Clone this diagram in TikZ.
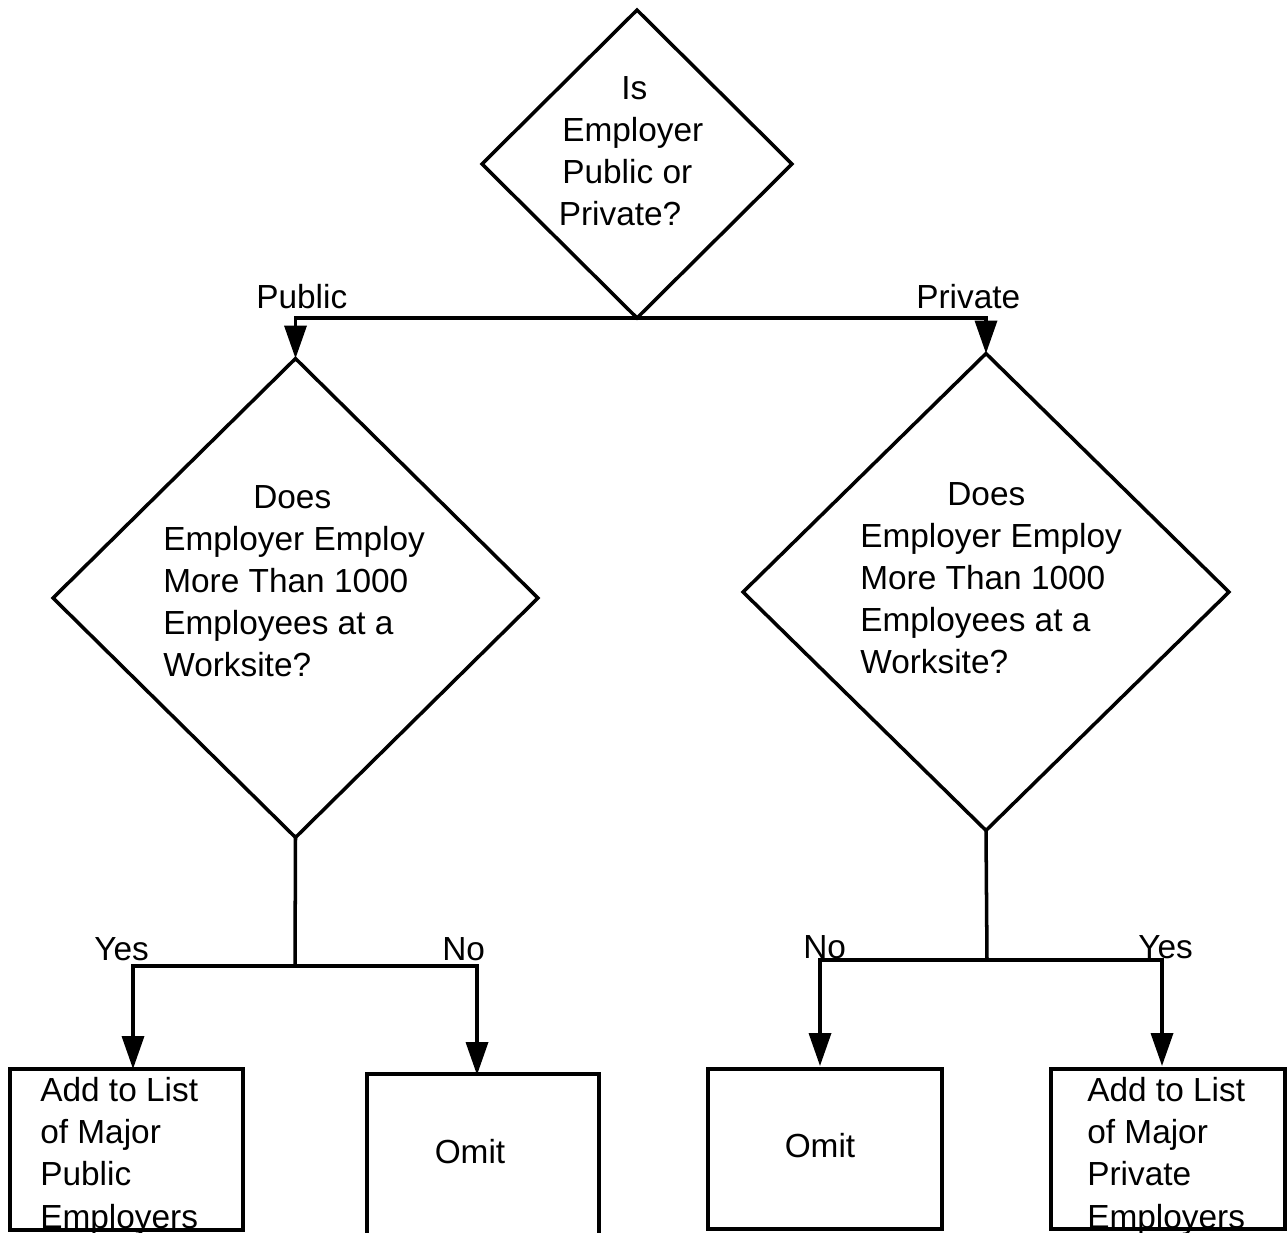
\documentclass[tikz,border=0pt]{standalone}
\usepackage{fontspec}
\setmainfont{Liberation Sans}
\usetikzlibrary{arrows.meta,shapes.geometric}
\begin{document}
\begin{tikzpicture}[x=0.02cm,y=-0.02cm,
  every node/.style={font=\fontsize{19}{24}\selectfont},
  decision/.style={draw, diamond, line width=2pt, inner sep=0pt, outer sep=0pt},
  outcome/.style={draw, rectangle, line width=2pt, inner sep=0pt, outer sep=0pt},
  txt/.style={align=left, anchor=north west, inner sep=0pt},
  lbl/.style={anchor=base west, inner sep=0pt},
  flow/.style={line width=2pt},
  arr/.style={flow, -{Triangle[length=0.66cm,width=0.44cm]}}
]
\useasboundingbox (0,0) rectangle (1288,1233);

% decision diamonds
\node[decision, minimum width=6.2cm, minimum height=6.16cm] (top) at (637,164) {};
\node[decision, minimum width=9.7cm, minimum height=9.58cm] (pubD) at (295.5,598) {};
\node[decision, minimum width=9.72cm, minimum height=9.54cm] (privD) at (986,592) {};

% outcome boxes
\node[outcome, minimum width=4.66cm, minimum height=3.22cm] (addPub) at (126.5,1149.5) {};
\node[outcome, minimum width=4.64cm, minimum height=3.28cm] (omitL) at (483,1156) {};
\node[outcome, minimum width=4.68cm, minimum height=3.2cm] (omitR) at (825,1149) {};
\node[outcome, minimum width=4.68cm, minimum height=3.2cm] (addPriv) at (1168,1149) {};

% texts inside the shapes
\node[txt] (tTop) at (562,76) {\hspace*{1.18cm}Is\\Employer\\Public or\\\hspace*{-0.07cm}Private?};
\node[txt] (tPub) at (163,485) {\hspace*{1.8cm}Does\\Employer Employ\\More Than 1000\\Employees at a\\Worksite?};
\node[txt] (tPriv) at (860,482) {\hspace*{1.74cm}Does\\Employer Employ\\More Than 1000\\Employees at a\\Worksite?};
\node[txt] (tAddPub) at (40,1077) {Add to List\\of Major\\Public\\Employers};
\node[txt] (tAddPriv) at (1087,1077) {Add to List\\of Major\\Private\\Employers};
\node[inner sep=0pt] (tOmitL) at (470,1152) {Omit};
\node[inner sep=0pt] (tOmitR) at (820,1146) {Omit};

% branch labels
\node[lbl] (lPublic) at (256,308) {Public};
\node[lbl] (lPrivate) at (916,308) {Private};
\node[lbl] (lYesL) at (94,960) {Yes};
\node[lbl] (lNoL) at (442,960) {No};
\node[lbl] (lNoR) at (803,958) {No};
\node[lbl] (lYesR) at (1138,958) {Yes};

% junctions below the second-level decisions
\coordinate (jL) at (295,966);
\coordinate (jR) at (987,960);

% connectors
\draw[arr] (top.south) -| (pubD.north);
\draw[arr] (top.south) -| (privD.north);
\draw[flow] (pubD.south) -- (jL);
\draw[flow] (privD.south) -- (jR);
\draw[arr] (jL) -| ([xshift=0.13cm]addPub.north);
\draw[arr] (jL) -| ([xshift=-0.12cm,yshift=-0.02cm]omitL.north);
\draw[arr] (jR) -| ([xshift=-0.1cm,yshift=0.06cm]omitR.north);
\draw[arr] (jR) -| ([xshift=-0.12cm,yshift=0.06cm]addPriv.north);
\end{tikzpicture}
\end{document}
